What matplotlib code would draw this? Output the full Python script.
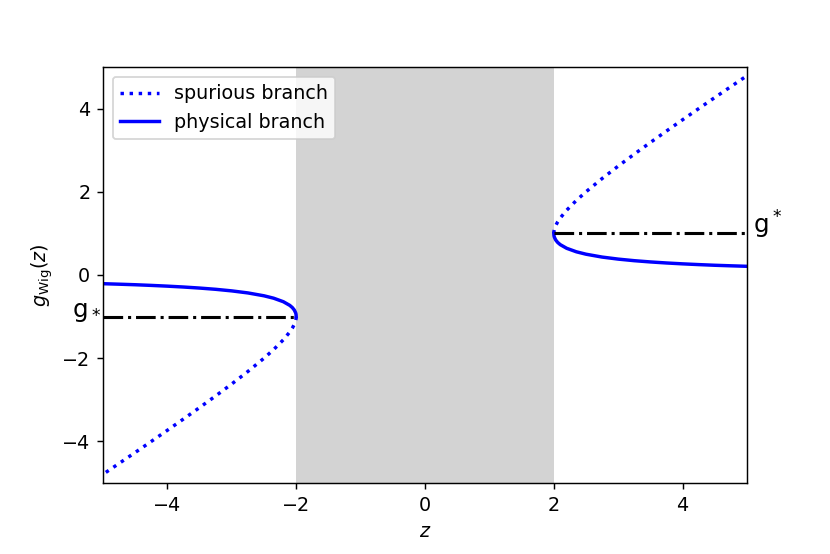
import matplotlib
matplotlib.use('Agg')
import matplotlib.pyplot as plt

# values
z_right = [2.0, 2.002, 2.005, 2.01, 2.03, 2.06, 2.1, 2.2, 2.35, 2.5, 2.75,
           3.0, 3.25, 3.5, 3.75, 4.0, 4.25, 4.5, 4.75, 5.0]
g_phys_right = [1.0, 0.955, 0.929, 0.905, 0.841, 0.783, 0.730, 0.642, 0.558, 0.5, 0.431,
                0.382, 0.344, 0.314, 0.289, 0.268, 0.25, 0.234, 0.221, 0.209]
g_spur_right = [1.0, 1.045, 1.072, 1.105, 1.189, 1.277, 1.370, 1.558, 1.792, 2.0, 2.319,
                2.618, 2.906, 3.186, 3.461, 3.732, 4.0, 4.266, 4.529, 4.791]

z_left = [-2.0, -2.002, -2.005, -2.01, -2.03, -2.06, -2.1, -2.2, -2.35, -2.5, -2.75,
          -3.0, -3.25, -3.5, -3.75, -4.0, -4.25, -4.5, -4.75, -5.0]
g_phys_left = [-1.0, -0.955, -0.929, -0.905, -0.841, -0.783, -0.730, -0.642, -0.558, -0.5, -0.431,
               -0.382, -0.344, -0.314, -0.289, -0.268, -0.25, -0.234, -0.221, -0.209]
g_spur_left = [-1.0, -1.045, -1.072, -1.105, -1.189, -1.277, -1.370, -1.558, -1.792, -2.0, -2.319,
               -2.618, -2.906, -3.186, -3.461, -3.732, -4.0, -4.266, -4.529, -4.791]

g_lower = -1.0   # g_*
g_upper = 1.0    # g^*
edge = 2.0

plt.rcParams['font.size'] = 10.6

dpi = 130
fig = plt.figure(figsize=(830 / dpi, 554 / dpi), dpi=dpi)
ax = fig.add_axes([103 / 830, 71 / 554, 644 / 830, 416 / 554])

ax.axvspan(-edge, edge, color='lightgray', lw=0)

ax.plot(z_right, g_spur_right, ':', color='blue', lw=1.9, label='spurious branch')
ax.plot(z_right, g_phys_right, '-', color='blue', lw=1.9, label='physical branch')
ax.plot(z_left, g_spur_left, ':', color='blue', lw=1.9)
ax.plot(z_left, g_phys_left, '-', color='blue', lw=1.9)

ax.plot([-5, -edge], [g_lower, g_lower], '-.', color='black', lw=1.7)
ax.plot([edge, 5], [g_upper, g_upper], '-.', color='black', lw=1.7)

ax.text(-5.48, g_lower, 'g$_*$', fontsize=13.5)
ax.text(5.1, g_upper, 'g$^*$', fontsize=13.5)

ax.set_xlim(-5, 5)
ax.set_ylim(-5, 5)
ax.set_xlabel('$z$')
ax.set_ylabel(r'$g_{\rm Wig}(z)$')
ax.legend(loc='upper left')

fig.savefig('out.png', dpi=dpi)
